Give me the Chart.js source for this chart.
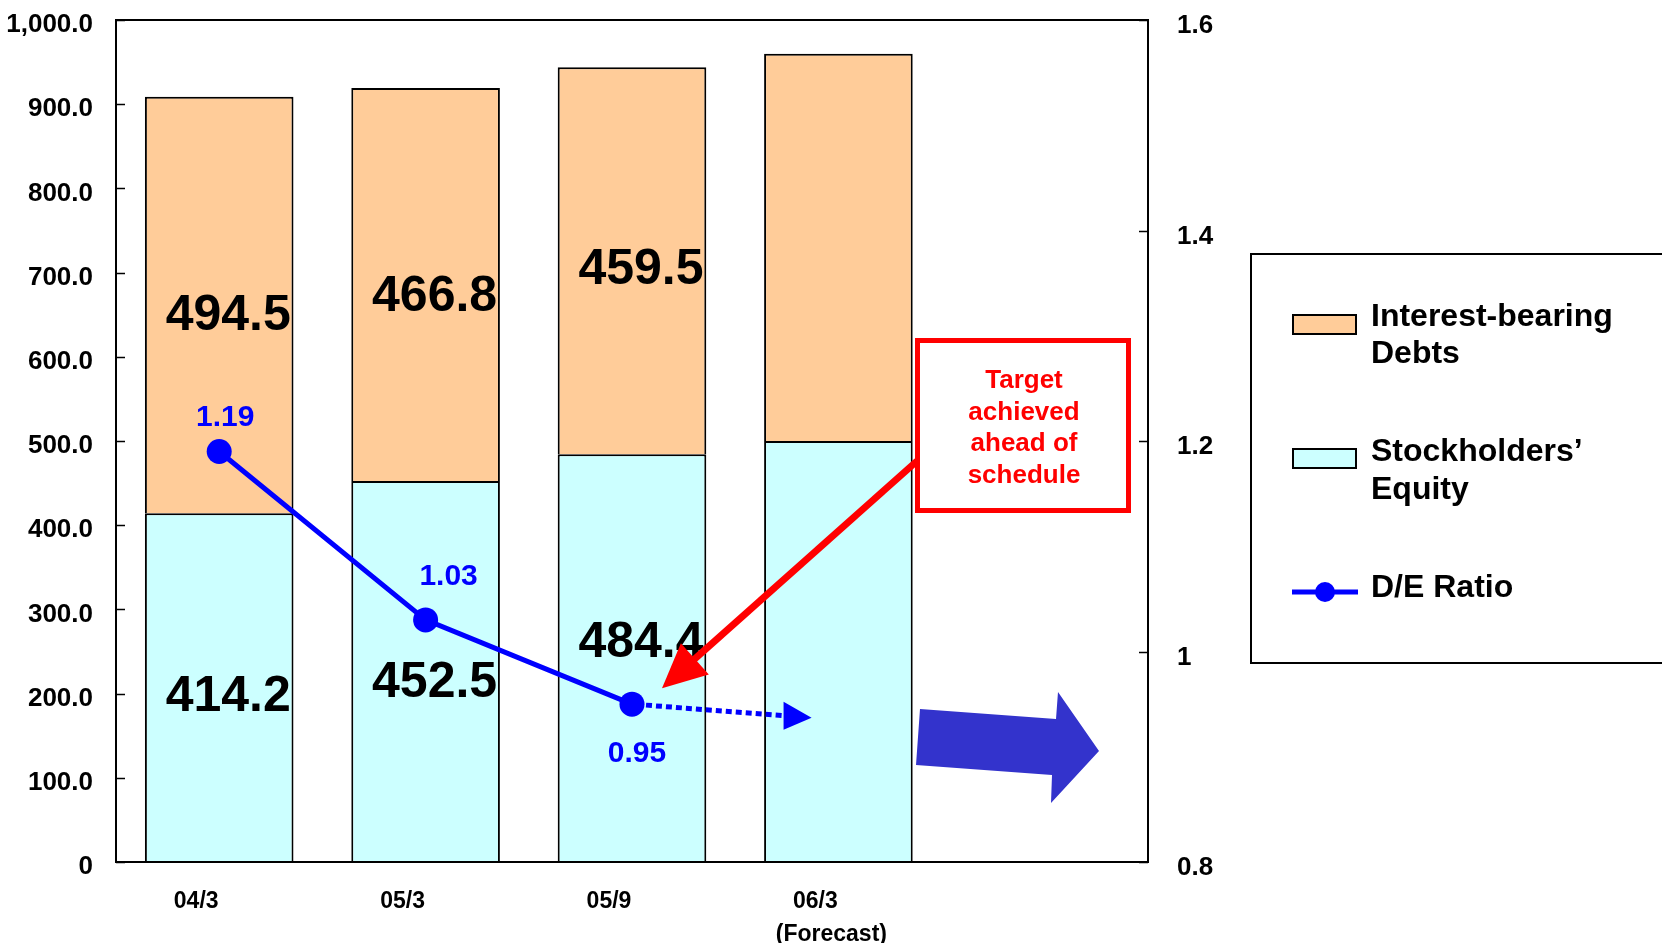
<!DOCTYPE html>
<html>
<head>
<meta charset="utf-8">
<script src="https://cdn.jsdelivr.net/npm/chart.js@4.4.1/dist/chart.umd.min.js"></script>
<style>
  html, body { margin: 0; padding: 0; background: #ffffff; }
  #wrap { width: 1662px; height: 943px; }
</style>
</head>
<body>
<div id="wrap"><canvas id="chart" width="1662" height="943"></canvas></div>
<script>
// Balance sheet figures (billion yen) and the debt / equity ratio
const categories = ['04/3', '05/3', '05/9', ['06/3', '     (Forecast)'], ''];
const equity = [414.2, 452.5, 484.4, 500.0, null];
const debts = [494.5, 466.8, 459.5, 460.0, null];
const deRatio = [1.19, 1.03, 0.95, null, null];
const showValue = [true, true, true, false, false];

// Where the dotted trend arrow after 05/9 ends (category position, ratio)
const trendTip = { index: 2.87, value: 0.937 };

const leftTickValues = [0, 100, 200, 300, 400, 500, 600, 700, 800, 900, 1000];
const rightTickValues = [0.8, 1.0, 1.2, 1.4, 1.6];

const legendLines = [['Interest-bearing', 'Debts'], ['Stockholders\u2019', 'Equity'], ['D/E Ratio']];
const calloutLines = ['Target', 'achieved', 'ahead of', 'schedule'];

const FONT = '"Liberation Sans", Arial, Helvetica, sans-serif';
const DEBT_FILL = '#FFCC99';
const EQUITY_FILL = '#CCFFFF';
const BLUE = '#0000FF';
const RED = '#FF0000';
const BLOCK_BLUE = '#3333CC';

function fmtLeft(v) {
  if (v === 0) return '0';
  return v.toLocaleString('en-US', { minimumFractionDigits: 1, maximumFractionDigits: 1 });
}

function arrowHead(ctx, tipX, tipY, fromX, fromY, len, half) {
  const dx = tipX - fromX, dy = tipY - fromY;
  const d = Math.hypot(dx, dy);
  const ux = dx / d, uy = dy / d;
  const bx = tipX - ux * len, by = tipY - uy * len;
  ctx.beginPath();
  ctx.moveTo(tipX, tipY);
  ctx.lineTo(bx - uy * half, by + ux * half);
  ctx.lineTo(bx + uy * half, by - ux * half);
  ctx.closePath();
  ctx.fill();
}

function fixedWidth(w) {
  return s => { s.width = w; s.paddingTop = 0; s.paddingBottom = 0; };
}

const decorations = {
  id: 'decorations',
  afterDatasetsDraw(chart) {
    const ctx = chart.ctx;
    const area = chart.chartArea;
    const xs = chart.scales.x, yL = chart.scales.y, yR = chart.scales.y1;
    const eqMeta = chart.getDatasetMeta(0);
    const debtMeta = chart.getDatasetMeta(1);
    const lineMeta = chart.getDatasetMeta(2);
    ctx.save();

    // plot frame
    ctx.strokeStyle = '#000';
    ctx.lineWidth = 2;
    ctx.strokeRect(area.left, area.top, area.right - area.left, area.bottom - area.top);

    // inward tick marks on both value axes
    ctx.lineWidth = 1.5;
    ctx.beginPath();
    leftTickValues.forEach(v => {
      const y = Math.round(yL.getPixelForValue(v)) + 0.5;
      ctx.moveTo(area.left, y); ctx.lineTo(area.left + 9, y);
    });
    rightTickValues.forEach(v => {
      const y = Math.round(yR.getPixelForValue(v)) + 0.5;
      ctx.moveTo(area.right - 9, y); ctx.lineTo(area.right, y);
    });
    ctx.stroke();

    // segment value labels
    ctx.fillStyle = '#000';
    ctx.font = 'bold 50px ' + FONT;
    ctx.textAlign = 'center';
    ctx.textBaseline = 'middle';
    [[debtMeta, debts, [11, 13, 10, 0]], [eqMeta, equity, [10, 12, -15, 0]]].forEach(([meta, vals, dy]) => {
      meta.data.forEach((bar, i) => {
        if (!showValue[i] || vals[i] == null) return;
        const cy = (bar.y + bar.base) / 2;
        ctx.fillText(vals[i].toFixed(1), bar.x + 9, cy + dy[i]);
      });
    });

    // ratio labels
    ctx.fillStyle = BLUE;
    ctx.font = 'bold 30px ' + FONT;
    const ratioOffsets = [[6, -34], [23, -43], [5, 50]];
    lineMeta.data.forEach((pt, i) => {
      if (deRatio[i] == null) return;
      const o = ratioOffsets[i];
      ctx.fillText(deRatio[i].toFixed(2), pt.x + o[0], pt.y + o[1]);
    });

    // dotted trend arrow from the latest ratio
    const last = lineMeta.data[2];
    const tipX = xs.getPixelForValue(trendTip.index);
    const tipY = yR.getPixelForValue(trendTip.value);
    const baseX = tipX - 28;
    const baseY = last.y + (tipY - last.y) * ((baseX - last.x) / (tipX - last.x));
    ctx.strokeStyle = BLUE;
    ctx.lineWidth = 5;
    ctx.setLineDash([6, 4]);
    ctx.beginPath();
    ctx.moveTo(last.x + 14, last.y + 1);
    ctx.lineTo(baseX, baseY);
    ctx.stroke();
    ctx.setLineDash([]);
    ctx.fillStyle = BLUE;
    ctx.beginPath();
    ctx.moveTo(tipX, tipY);
    ctx.lineTo(baseX, baseY - 14);
    ctx.lineTo(baseX, baseY + 14);
    ctx.closePath();
    ctx.fill();

    // callout box
    const bx = 917.5, by = 340.5, bw = 211, bh = 170;
    ctx.fillStyle = '#fff';
    ctx.fillRect(bx, by, bw, bh);
    ctx.strokeStyle = RED;
    ctx.lineWidth = 5;
    ctx.strokeRect(bx, by, bw, bh);
    ctx.fillStyle = RED;
    ctx.font = 'bold 26px ' + FONT;
    calloutLines.forEach((t, i) => ctx.fillText(t, bx + bw / 2 + 1, 381 + i * 31.5));

    // red pointer from the callout to the latest ratio
    const rTipX = last.x + 30, rTipY = last.y - 16;
    const rStartX = 917, rStartY = 461;
    ctx.strokeStyle = RED;
    ctx.lineWidth = 7;
    ctx.beginPath();
    const dd = Math.hypot(rTipX - rStartX, rTipY - rStartY);
    const ux = (rTipX - rStartX) / dd, uy = (rTipY - rStartY) / dd;
    ctx.moveTo(rStartX, rStartY);
    ctx.lineTo(rTipX - ux * 36, rTipY - uy * 36);
    ctx.stroke();
    ctx.fillStyle = RED;
    arrowHead(ctx, rTipX, rTipY, rStartX, rStartY, 44, 21);

    // block arrow
    ctx.fillStyle = BLOCK_BLUE;
    ctx.beginPath();
    ctx.moveTo(920, 709);
    ctx.lineTo(1056, 719);
    ctx.lineTo(1058, 692);
    ctx.lineTo(1099, 751);
    ctx.lineTo(1051, 803);
    ctx.lineTo(1052, 775);
    ctx.lineTo(916, 765);
    ctx.closePath();
    ctx.fill();

    // legend
    ctx.strokeStyle = '#000';
    ctx.lineWidth = 2;
    ctx.strokeRect(1251, 254, 480, 409);
    ctx.font = 'bold 32px ' + FONT;
    ctx.textAlign = 'left';
    ctx.fillStyle = DEBT_FILL;
    ctx.fillRect(1293, 315, 63, 19);
    ctx.strokeRect(1293, 315, 63, 19);
    ctx.fillStyle = EQUITY_FILL;
    ctx.fillRect(1293, 449, 63, 19);
    ctx.strokeRect(1293, 449, 63, 19);
    ctx.strokeStyle = BLUE;
    ctx.lineWidth = 5;
    ctx.beginPath();
    ctx.moveTo(1292, 592); ctx.lineTo(1358, 592);
    ctx.stroke();
    ctx.fillStyle = BLUE;
    ctx.beginPath();
    ctx.arc(1325, 592, 10, 0, Math.PI * 2);
    ctx.fill();
    ctx.fillStyle = '#000';
    const rowsY = [[317, 354], [452, 490], [588]];
    legendLines.forEach((lines, r) => {
      lines.forEach((t, k) => ctx.fillText(t, 1371, rowsY[r][k]));
    });

    ctx.restore();
  }
};

new Chart(document.getElementById('chart'), {
  data: {
    labels: categories,
    datasets: [
      {
        type: 'bar', label: legendLines[1].join(' '), data: equity, yAxisID: 'y',
        backgroundColor: EQUITY_FILL, borderColor: '#000', borderWidth: 2, order: 1,
        barPercentage: 0.72, categoryPercentage: 1.0
      },
      {
        type: 'bar', label: legendLines[0].join(' '), data: debts, yAxisID: 'y',
        backgroundColor: DEBT_FILL, borderColor: '#000', borderWidth: 2, order: 2,
        barPercentage: 0.72, categoryPercentage: 1.0
      },
      {
        type: 'line', label: legendLines[2].join(' '), data: deRatio, yAxisID: 'y1',
        borderColor: BLUE, backgroundColor: BLUE, borderWidth: 5,
        pointRadius: 12.5, pointBackgroundColor: BLUE, pointBorderWidth: 0,
        tension: 0, spanGaps: false, order: 0
      }
    ]
  },
  options: {
    responsive: false,
    animation: false,
    devicePixelRatio: 1,
    layout: { padding: { top: 20, left: 0, right: 0, bottom: 0 } },
    plugins: { legend: { display: false }, tooltip: { enabled: false }, title: { display: false } },
    scales: {
      x: {
        stacked: true,
        offset: true,
        grid: { display: false, drawTicks: false },
        border: { display: false },
        ticks: {
          color: '#000', font: { family: FONT, size: 23, weight: 'bold', lineHeight: 1.4 },
          padding: 24, labelOffset: -23, maxRotation: 0, autoSkip: false
        },
        afterFit: s => { s.height = 81; s.paddingLeft = 0; s.paddingRight = 0; }
      },
      y: {
        position: 'left', stacked: true, min: 0, max: 1000,
        afterBuildTicks: s => { s.ticks = leftTickValues.map(v => ({ value: v })); },
        grid: { display: false, drawTicks: false },
        border: { display: false },
        ticks: {
          color: '#000', font: { family: FONT, size: 26, weight: 'bold' },
          padding: 23, labelOffset: 5, callback: v => fmtLeft(v)
        },
        afterFit: fixedWidth(116)
      },
      y1: {
        position: 'right', min: 0.8, max: 1.6,
        afterBuildTicks: s => { s.ticks = rightTickValues.map(v => ({ value: v })); },
        grid: { display: false, drawTicks: false },
        border: { display: false },
        ticks: {
          color: '#000', font: { family: FONT, size: 26, weight: 'bold' },
          padding: 29, labelOffset: 6, callback: v => String(Math.round(v * 10) / 10)
        },
        afterFit: fixedWidth(514)
      }
    }
  },
  plugins: [decorations]
});
</script>
</body>
</html>
